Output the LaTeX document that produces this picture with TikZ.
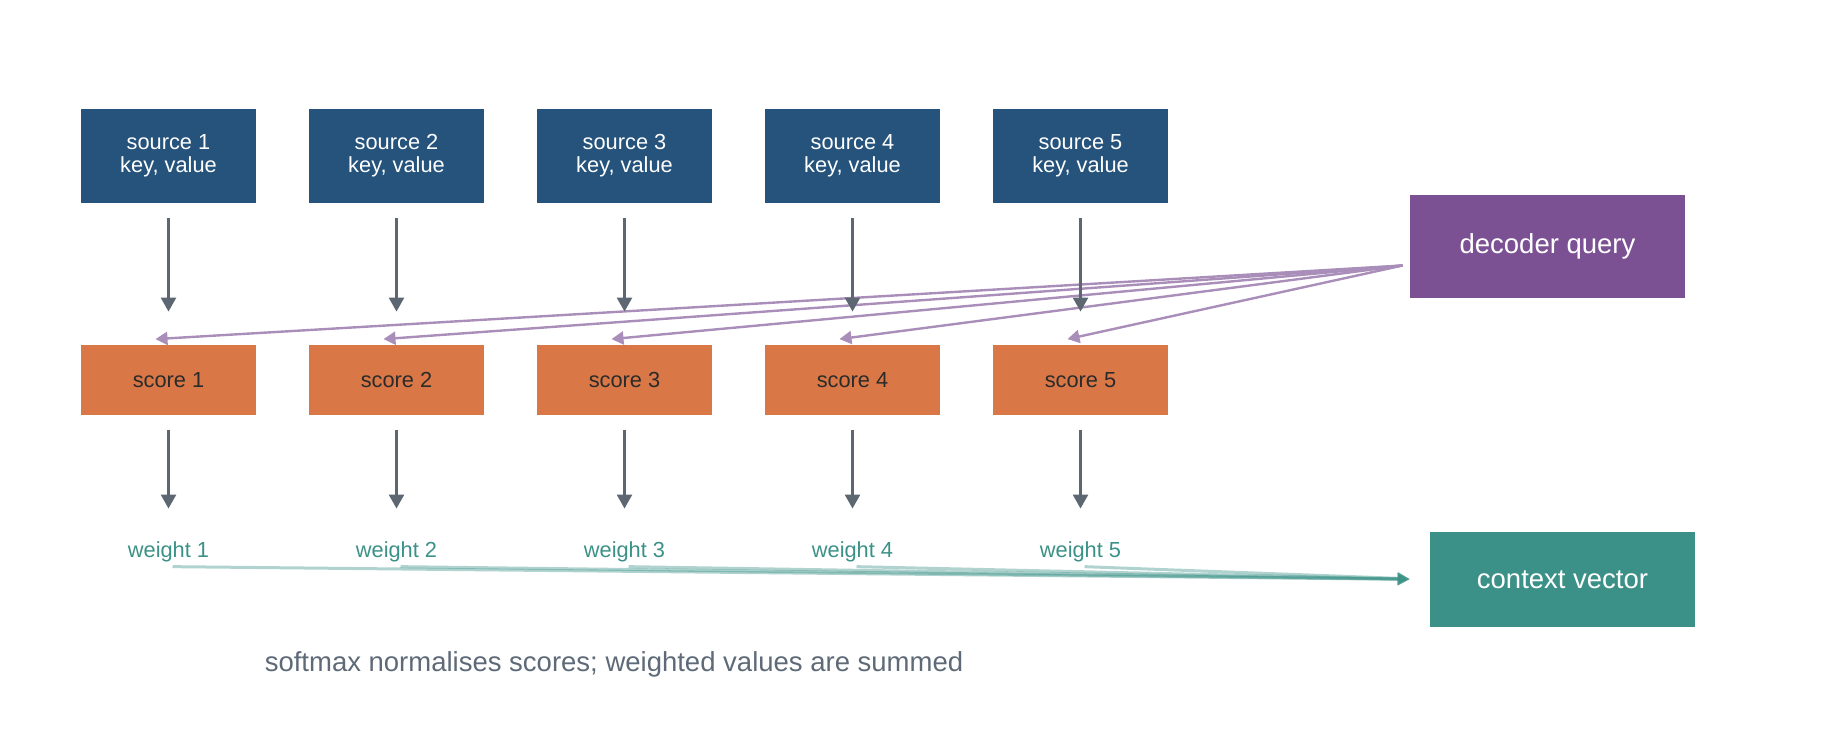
\documentclass[tikz,border=0pt]{standalone}
\usepackage{fontspec}
\setmainfont{Liberation Sans}
\usepackage{xcolor}
\usetikzlibrary{arrows.meta,calc,positioning}
\definecolor{srcblue}{HTML}{25537B}
\definecolor{scoreorange}{HTML}{D97846}
\definecolor{qpurple}{HTML}{7B5194}
\definecolor{ctxteal}{HTML}{3B9187}
\definecolor{arrowgray}{HTML}{5D6772}
\definecolor{capgray}{HTML}{5E6A77}
\definecolor{scoretext}{HTML}{2B2B2B}

\begin{document}
\begin{tikzpicture}[x=0.5pt,y=-0.5pt,>=Latex,
  srcbox/.style={fill=srcblue,text=white,minimum width=87.5pt,minimum height=47pt,
    inner sep=0,align=center,font=\fontsize{10.9pt}{11.6pt}\selectfont},
  scorebox/.style={fill=scoreorange,text=scoretext,minimum width=87.5pt,minimum height=35pt,
    inner sep=0,font=\fontsize{10.9pt}{11.6pt}\selectfont},
  wlabel/.style={text=ctxteal,inner sep=0,text height=8pt,text depth=2.25pt,
    font=\fontsize{10.9pt}{11.6pt}\selectfont},
  bigbox/.style={text=white,inner sep=0,font=\fontsize{13.75pt}{15pt}\selectfont},
  grayarrow/.style={arrowgray,line width=1.3pt,-{Triangle[width=7.5pt,length=7pt]}},
  qline/.style={qpurple!65,line width=1.2pt,-{Triangle[width=6.5pt,length=6pt]}},
  wline/.style={ctxteal,opacity=.4,line width=1.5pt,
    -{Triangle[width=6pt,length=6pt]}}]
  \useasboundingbox (0,0) rectangle (1823,733);

  \foreach \i in {1,...,5}{
    \pgfmathsetmacro\cx{168.5+228*(\i-1)}
    \node[srcbox] (src\i) at (\cx,156) {source \i\\key, value};
    \node[scorebox] (sc\i) at (\cx,380) {score \i};
    \node[wlabel] (w\i) at (\cx,552) {weight \i};
  }
  \node[bigbox,fill=qpurple,minimum width=137.5pt,minimum height=51.5pt] (query) at (1547.5,246.5) {decoder query};
  \node[bigbox,fill=ctxteal,minimum width=132.5pt,minimum height=47.5pt] (ctx) at (1562.5,579.5) {context vector};

  % query fans out to every score
  \coordinate (qsrc) at ($(query.west)+(-7,19)$);
  \foreach \i in {1,...,5}{
    \coordinate (qin\i) at ($(sc\i.north)+(-13,-5.5)$);
    \draw[qline] (qsrc) -- (qin\i);
  }

  \foreach \i in {1,...,5}{
    \draw[grayarrow,shorten <=7.5pt,shorten >=16.5pt] (src\i.south) -- (sc\i.north);
    \draw[grayarrow,shorten <=7.5pt,shorten >=16.4pt] (sc\i.south) -- (w\i.north);
    \coordinate (wout\i) at ($(w\i.south)+(4,4)$);
    \draw[wline,shorten >=10pt] (wout\i) -- (ctx.west);
  }

  \node[text=capgray,font=\fontsize{13.75pt}{15pt}\selectfont] (note) at (614,664)
    {softmax normalises scores; weighted values are summed};
\end{tikzpicture}
\end{document}
